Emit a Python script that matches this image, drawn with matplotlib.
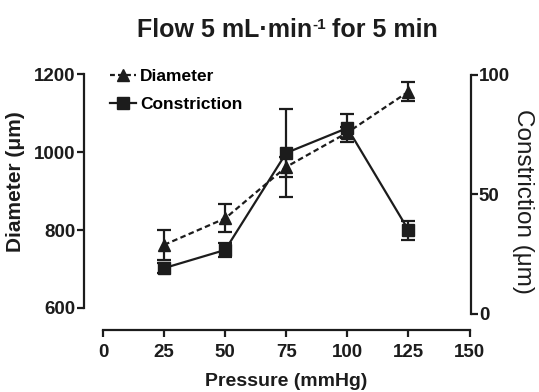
"""Diameter and constriction vs pressure (dual axis)
"""
import numpy as np
import matplotlib
matplotlib.use("Agg")
import matplotlib.pyplot as plt
from matplotlib.lines import Line2D

plt.rcParams['font.family'] = ['Liberation Sans', 'DejaVu Sans']
plt.rcParams['font.weight'] = 'bold'

# data
pressure = [25, 50, 75, 100, 125]
diameter = [762, 830, 962, 1050, 1155]
diameter_err = [38, 36, 26, 15, 24]
constriction = [19.2, 26.8, 67.4, 77.8, 35.1]
constriction_err = [2, 3, 18.4, 6, 4]

ink = '#1c1c1c'
W, H = 539, 392

fig = plt.figure(figsize=(W / 100, H / 100), dpi=100)
ax = fig.add_axes([84 / W, 1 - 314 / H, 386.5 / W, 240 / H])
ax2 = ax.twinx()

ax.errorbar(pressure, diameter, yerr=diameter_err, color=ink, ls=(0, (2.5, 1.5)),
            lw=1.6, marker='^', ms=8.5, capsize=5, capthick=1.6, elinewidth=1.6, zorder=3)
ax2.errorbar(pressure, constriction, yerr=constriction_err, color=ink, ls='-',
             lw=1.6, marker='s', ms=8, capsize=5, capthick=1.6, elinewidth=1.6, zorder=3)

ax.set_xlim(-7.8, 150.4)
ax.set_ylim(584.6, 1200.3)
ax2.set_ylim(0, 100.4)

ax.set_xticks([0, 25, 50, 75, 100, 125, 150])
ax.set_yticks([600, 800, 1000, 1200])
ax2.set_yticks([0, 50, 100])

for a in (ax, ax2):
    for s in a.spines.values():
        s.set_visible(False)
        s.set_linewidth(1.6)
        s.set_color(ink)
ax.spines['left'].set_visible(True)
ax.spines['left'].set_bounds(600, 1200)
ax.spines['bottom'].set_visible(True)
ax.spines['bottom'].set_bounds(0, 150)
ax.spines['bottom'].set_position(('outward', 11.5))
ax2.spines['right'].set_visible(True)
ax2.spines['right'].set_bounds(0, 100)

ax.tick_params(axis='both', direction='out', length=5, width=1.6, color=ink,
               labelsize=13.5, labelcolor=ink, pad=1)
ax.tick_params(axis='x', pad=5)
ax2.tick_params(axis='y', direction='out', length=5, width=1.6, color=ink,
                labelsize=13.5, labelcolor=ink, pad=1)

ax.set_xlabel('Pressure (mmHg)', fontsize=14, color=ink, fontweight='bold', va='center')
ax.xaxis.set_label_coords(0.524, -0.283)
ax.set_ylabel('Diameter (μm)', fontsize=15, color=ink, fontweight='bold', va='center')
ax.yaxis.set_label_coords(-0.176, 0.55)
ax2.set_ylabel('Constriction (μm)', fontsize=17.5, color=ink, fontweight='normal',
               rotation=270, va='center')
ax2.yaxis.set_label_coords(1.136, 0.47)

# title built in pieces so the superscript keeps a plain hyphen
renderer = fig.canvas.get_renderer()
t1 = fig.text(0, 0, 'Flow 5 mL·min', fontsize=18, fontweight='bold', color=ink)
t2 = fig.text(0, 0, '-1', fontsize=11, fontweight='bold', color=ink)
t3 = fig.text(0, 0, 'for 5 min', fontsize=18, fontweight='bold', color=ink)
w1 = t1.get_window_extent(renderer).width
w2 = t2.get_window_extent(renderer).width
w3 = t3.get_window_extent(renderer).width
gap = 0.278 * 18 * 100 / 72
x0 = 287.5 - (w1 + w2 + gap + w3) / 2
base = H - 37
t1.set_position((x0 / W, base / H))
t2.set_position(((x0 + w1 + 0.5) / W, (base + 8) / H))
t3.set_position(((x0 + w1 + w2 + gap) / W, base / H))

handles = [
    Line2D([], [], color=ink, ls=(0, (2.2, 1.4)), lw=1.6, marker='^', ms=8.5),
    Line2D([], [], color=ink, ls='-', lw=1.6, marker='s', ms=8),
]
ax2.legend(handles, ['Diameter', 'Constriction'], loc='upper left',
           bbox_to_anchor=(0.028, 1.085), frameon=False,
           handlelength=1.5, handletextpad=0.2, labelspacing=0.7,
           prop={'weight': 'bold', 'size': 12.5})

fig.savefig('out.png', dpi=100)
